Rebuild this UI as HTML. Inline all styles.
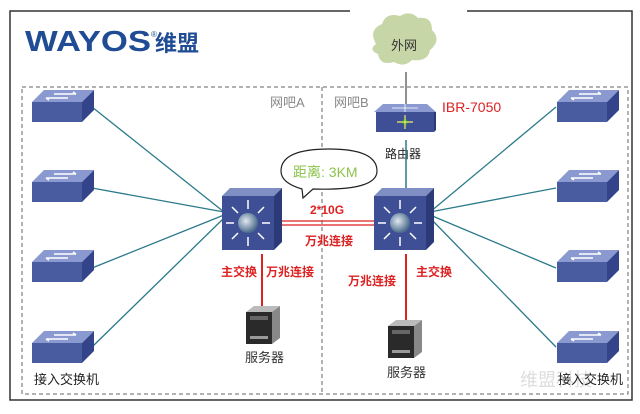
<!DOCTYPE html>
<html><head><meta charset="utf-8"><style>
body{margin:0;background:#fff}
svg{display:block}
text{font-family:"Liberation Sans","Noto Sans CJK SC",sans-serif}
</style></head><body>
<svg width="640" height="414" viewBox="0 0 640 414" xmlns="http://www.w3.org/2000/svg">
<defs>
<radialGradient id="ball" cx="0.4" cy="0.4" r="0.6"><stop offset="0" stop-color="#e0e8f0"/><stop offset="1" stop-color="#4a6a8a"/></radialGradient>
<g id="acc">
<polygon points="0,12 12,0 62,0 50,12" fill="#8a9ad0"/>
<rect x="0" y="12" width="50" height="20" fill="#4a5ca0"/>
<polygon points="50,12 62,0 62,20 50,32" fill="#33448a"/>
<path d="M22,4 h22 M44,4 l-3,-2 M36,8 h-22 M14,8 l3,2" stroke="#fff" stroke-width="1.5" fill="none"/>
</g>
<g id="core">
<polygon points="0,8 8,0 60,0 52,8" fill="#7f8fc4"/>
<rect x="0" y="8" width="52" height="54" fill="#3e4f96"/>
<polygon points="52,8 60,0 60,54 52,62" fill="#2c3a78"/>
<circle cx="26" cy="35" r="10" fill="url(#ball)"/>
<g stroke="#fff" stroke-width="1.5">
<path d="M26,21 v-9 M26,49 v9 M12,35 h-8 M40,35 h8 M16,25 l-6,-6 M36,25 l6,-6 M16,45 l-6,6 M36,45 l6,6"/></g>
</g>
<g id="srv">
<polygon points="0,6 8,0 34,0 26,6" fill="#bbb"/>
<rect x="0" y="6" width="26" height="32" fill="#2a2a2a"/>
<polygon points="26,6 34,0 34,32 26,38" fill="#888"/>
<rect x="4" y="10" width="18" height="4" fill="#666"/><rect x="4" y="30" width="18" height="3" fill="#999"/>
</g>
</defs>
<path d="M350,11 H10 V400 H632 V11 H467" fill="none" stroke="#333" stroke-width="1.5"/>
<rect x="22" y="87" width="606" height="307" fill="none" stroke="#666" stroke-dasharray="4,3"/>
<line x1="322" y1="87" x2="322" y2="394" stroke="#666" stroke-dasharray="4,3"/>
<text x="25" y="51" font-size="29" font-weight="bold" fill="#1f4c94" textLength="126" lengthAdjust="spacingAndGlyphs">WAYOS</text>
<text x="151" y="37" font-size="8" fill="#1f4c94">®</text>
<text x="155" y="51" font-size="22" font-weight="bold" fill="#1f4c94">维盟</text>
<path d="M376,44 q-8,-14 6,-20 q4,-12 18,-8 q10,-6 18,2 q14,-2 14,12 q10,10 -2,20 q-2,12 -18,10 q-8,8 -18,2 q-14,4 -16,-8 q-10,-4 -2,-10z" fill="#c7d6a6"/>
<text x="391" y="50" font-size="13" fill="#333">外网</text>
<line x1="406" y1="72" x2="406" y2="110" stroke="#222"/>
<!-- router -->
<polygon points="383,104 427,104 436,112 374,112" fill="#8a9ad0"/>
<rect x="376" y="112" width="58" height="20" fill="#3e4f96"/>
<polygon points="434,112 436,112 436,130 434,132" fill="#2c3a78"/>
<circle cx="405" cy="122" r="3" fill="#2a8a3a"/>
<path d="M397,122 h16 M405,115 v14" stroke="#ee6" stroke-width="1.2"/>
<path d="M392,108 h26 M405,104 v8" stroke="#fff" stroke-width="0.8"/>
<text x="442" y="112" font-size="14" fill="#d22">IBR-7050</text>
<text x="385" y="158" font-size="12" fill="#222">路由器</text>
<text x="270" y="107" font-size="13" fill="#888">网吧A</text>
<text x="334" y="107" font-size="13" fill="#888">网吧B</text>
<line x1="406" y1="140" x2="406" y2="190" stroke="#2a7a8a" stroke-width="1.5"/>
<!-- lines -->
<g stroke="#2a7a8a" stroke-width="1.3">
<line x1="92" y1="107" x2="224" y2="212"/><line x1="92" y1="188" x2="224" y2="212"/>
<line x1="92" y1="268" x2="224" y2="215"/><line x1="92" y1="347" x2="224" y2="218"/>
<line x1="556" y1="107" x2="430" y2="212"/><line x1="556" y1="188" x2="430" y2="212"/>
<line x1="556" y1="268" x2="430" y2="215"/><line x1="556" y1="347" x2="430" y2="218"/>
</g>
<use href="#acc" x="32" y="90"/><use href="#acc" x="32" y="170"/><use href="#acc" x="32" y="250"/><use href="#acc" x="32" y="331"/>
<use href="#acc" x="557" y="90"/><use href="#acc" x="557" y="170"/><use href="#acc" x="557" y="250"/><use href="#acc" x="557" y="331"/>
<g stroke="#d22" stroke-width="1.3"><line x1="282" y1="221" x2="374" y2="221"/><line x1="282" y1="225" x2="374" y2="225"/></g>
<line x1="262" y1="254" x2="262" y2="306" stroke="#d22" stroke-width="2"/>
<line x1="406" y1="254" x2="406" y2="320" stroke="#d22" stroke-width="2"/>
<use href="#core" x="222" y="188"/><use href="#core" x="374" y="188"/>
<path d="M302,189 l1,9 l10,-9 q64,2 64,-18 q0,-22 -48,-22 q-48,0 -48,22 q0,12 21,18z" fill="#fff" stroke="#222" stroke-width="1.2"/>
<text x="293" y="177" font-size="14" fill="#8bc34a">距离: 3KM</text>
<text x="310" y="214" font-size="12" font-weight="bold" fill="#d22">2*10G</text>
<text x="305" y="245" font-size="12" font-weight="bold" fill="#d22">万兆连接</text>
<text x="221" y="276" font-size="12" font-weight="bold" fill="#d22">主交换</text>
<text x="266" y="276" font-size="12" font-weight="bold" fill="#d22">万兆连接</text>
<text x="348" y="285" font-size="12" font-weight="bold" fill="#d22">万兆连接</text>
<text x="416" y="276" font-size="12" font-weight="bold" fill="#d22">主交换</text>
<use href="#srv" x="246" y="306"/><use href="#srv" x="388" y="320"/>
<text x="245" y="362" font-size="13" fill="#333">服务器</text>
<text x="387" y="377" font-size="13" fill="#333">服务器</text>
<text x="34" y="384" font-size="13" fill="#222">接入交换机</text>
<text x="520" y="386" font-size="18" fill="#ddd">维盟科技</text>
<text x="558" y="384" font-size="13" fill="#222">接入交换机</text>
</svg>
</body></html>
